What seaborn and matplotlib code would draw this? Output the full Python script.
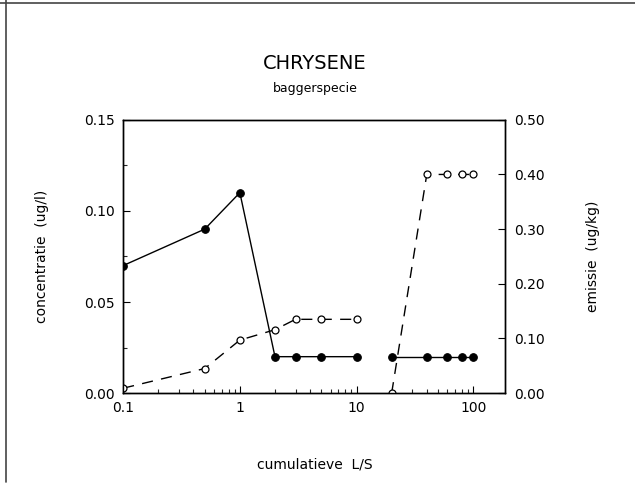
import numpy as np
import pandas as pd
import matplotlib
matplotlib.use("Agg")
import matplotlib.pyplot as plt
import seaborn as sns
from matplotlib.lines import Line2D
from matplotlib.ticker import FixedLocator, NullFormatter

# Data
ls_left = [0.1, 0.5, 1, 2, 3, 5, 10]
ls_right = [20, 40, 60, 80, 100]
conc_left = [0.07, 0.09, 0.11, 0.02, 0.02, 0.02, 0.02]
conc_right = [0.02, 0.02, 0.02, 0.02, 0.02]
emis_left = [0.009, 0.045, 0.097, 0.116, 0.135, 0.135, 0.135]
emis_right = [0.0, 0.40, 0.40, 0.40, 0.40]

x_ticks = [0.1, 1, 10, 100]
x_ticklabels = ["0.1", "1", "10", "100"]
left_ticks = [0.00, 0.05, 0.10, 0.15]
right_ticks = [0.0, 0.1, 0.2, 0.3, 0.4, 0.5]

sns.set_theme(style="white")
plt.rcParams['font.family'] = ['DejaVu Sans']
plt.rcParams['text.color'] = 'black'
plt.rcParams['axes.labelcolor'] = 'black'

fig = plt.figure(figsize=(6.35, 4.97), dpi=100)
ax = fig.add_axes([0.194, 0.209, 0.602, 0.550])
ax2 = ax.twinx()

df_c1 = pd.DataFrame({"x": ls_left, "y": conc_left})
df_c2 = pd.DataFrame({"x": ls_right, "y": conc_right})
df_e1 = pd.DataFrame({"x": ls_left, "y": emis_left})
df_e2 = pd.DataFrame({"x": ls_right, "y": emis_right})

for d in (df_c1, df_c2):
    sns.lineplot(data=d, x="x", y="y", ax=ax, color="black", lw=1.0,
                 marker="o", markersize=5.5, markerfacecolor="black",
                 markeredgecolor="black", sort=False, estimator=None)
for d in (df_e1, df_e2):
    sns.lineplot(data=d, x="x", y="y", ax=ax2, color="black", lw=1.0,
                 linestyle=(0, (8, 6)), marker="o", markersize=5,
                 markerfacecolor="white", markeredgecolor="black",
                 markeredgewidth=0.9, sort=False, estimator=None)

ax.set_xscale("log")
ax.set_xlim(0.1, 189)
ax.set_ylim(0, 0.15)
ax2.set_ylim(0, 0.5)

ax.set_xticks(x_ticks)
ax.set_xticklabels(x_ticklabels)
ax.xaxis.set_minor_locator(FixedLocator(
    [m * d for d in (0.1, 1, 10, 100) for m in range(2, 10) if m * d < 189]))
ax.xaxis.set_minor_formatter(NullFormatter())
ax.set_yticks(left_ticks)
ax.set_yticklabels([f"{v:.2f}" for v in left_ticks])
ax.yaxis.set_minor_locator(FixedLocator([0.025, 0.075, 0.125]))
ax2.set_yticks(right_ticks)
ax2.set_yticklabels([f"{v:.2f}" for v in right_ticks])

for a in (ax, ax2):
    for s in a.spines.values():
        s.set_color("black")
        s.set_linewidth(1.0)
ax.tick_params(axis="both", which="major", direction="in", length=5, width=0.8,
               labelsize=10, colors="black", pad=6)
ax.tick_params(axis="both", which="minor", direction="in", length=3, width=0.8)
ax.tick_params(axis="x", which="both", bottom=True)
ax.tick_params(axis="y", which="both", left=True)
ax2.tick_params(axis="y", which="major", direction="in", length=5, width=0.8,
                labelsize=10, colors="black", pad=6, right=True)

ax.set_xlabel("cumulatieve  L/S", fontsize=10, labelpad=30, color="black")
ax.set_ylabel("concentratie  (ug/l)", fontsize=10, labelpad=25, color="black")
ax2.set_ylabel("emissie  (ug/kg)", fontsize=10, rotation=90, labelpad=30,
               color="black")

fig.text(0.496, 0.873, "CHRYSENE", ha="center", va="center", fontsize=14,
         color="black")
fig.text(0.496, 0.821, "baggerspecie", ha="center", va="center", fontsize=9,
         color="black")

# page frame lines
fig.add_artist(Line2D([0, 1], [0.994, 0.994], transform=fig.transFigure,
                      color="#444444", lw=1.2))
fig.add_artist(Line2D([0.01, 0.01], [0.03, 1], transform=fig.transFigure,
                      color="#444444", lw=1.2))

fig.savefig("out.png", dpi=100, facecolor="white")
